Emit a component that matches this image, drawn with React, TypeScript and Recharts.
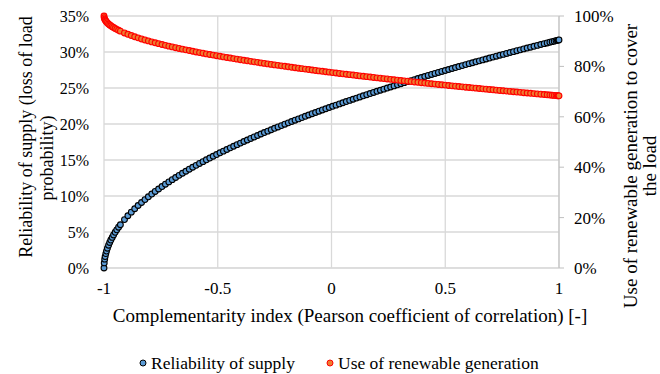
import React from "react";
import {
  ScatterChart,
  Scatter,
  XAxis,
  YAxis,
  CartesianGrid,
} from "recharts";

// Complementarity index (Pearson r), denser sampling towards both ends
const corrIndex = [
  -1, -0.999, -0.997, -0.995, -0.992, -0.989, -0.985, -0.98, -0.975, -0.97, -0.964, -0.958,
  -0.951, -0.944, -0.936, -0.928,
  -0.91, -0.895, -0.88, -0.865, -0.85, -0.835, -0.82, -0.805, -0.79, -0.775,
  -0.76, -0.745, -0.73, -0.715, -0.7, -0.685, -0.67, -0.655, -0.64, -0.625,
  -0.61, -0.595, -0.58, -0.565, -0.55, -0.535, -0.52, -0.505, -0.49, -0.475,
  -0.46, -0.445, -0.43, -0.415, -0.4, -0.385, -0.37, -0.355, -0.34, -0.325,
  -0.31, -0.295, -0.28, -0.265, -0.25, -0.235, -0.22, -0.205, -0.19, -0.175,
  -0.16, -0.145, -0.13, -0.115, -0.1, -0.085, -0.07, -0.055, -0.04, -0.025,
  -0.01, 0.005, 0.02, 0.035, 0.05, 0.065, 0.08, 0.095, 0.11, 0.125,
  0.14, 0.155, 0.17, 0.185, 0.2, 0.215, 0.23, 0.245, 0.26, 0.275,
  0.29, 0.305, 0.32, 0.335, 0.35, 0.365, 0.38, 0.395, 0.41, 0.425,
  0.44, 0.455, 0.47, 0.485, 0.5, 0.515, 0.53, 0.545, 0.56, 0.575,
  0.59, 0.605, 0.62, 0.635, 0.65, 0.665, 0.68, 0.695, 0.71, 0.725,
  0.74, 0.755, 0.77, 0.785, 0.8, 0.815, 0.83, 0.845, 0.86,
  0.875, 0.89, 0.905, 0.92, 0.935, 0.948, 0.96, 0.97, 0.979, 0.987, 0.993, 0.997, 1,
];

// Loss of load probability [%] (left axis)
const reliability = [
  0, 0.71, 1.23, 1.58, 2.0, 2.35, 2.74, 3.17, 3.54, 3.88, 4.25, 4.59,
  4.96, 5.3, 5.67, 6.01,
  6.72, 7.26, 7.76, 8.23, 8.68, 9.1, 9.5, 9.89, 10.27, 10.63,
  10.97, 11.31, 11.64, 11.96, 12.27, 12.57, 12.87, 13.16, 13.44, 13.72,
  13.99, 14.26, 14.52, 14.77, 15.03, 15.27, 15.52, 15.76, 16.0, 16.23,
  16.46, 16.69, 16.91, 17.13, 17.35, 17.57, 17.78, 17.99, 18.2, 18.4,
  18.61, 18.81, 19.01, 19.2, 19.4, 19.59, 19.78, 19.97, 20.16, 20.35,
  20.53, 20.71, 20.89, 21.07, 21.25, 21.43, 21.6, 21.78, 21.95, 22.12,
  22.29, 22.46, 22.62, 22.79, 22.95, 23.12, 23.28, 23.44, 23.6, 23.76,
  23.92, 24.07, 24.23, 24.38, 24.54, 24.69, 24.84, 24.99, 25.14, 25.29,
  25.44, 25.59, 25.74, 25.88, 26.03, 26.17, 26.31, 26.46, 26.6, 26.74,
  26.88, 27.02, 27.16, 27.3, 27.43, 27.57, 27.71, 27.84, 27.98, 28.11,
  28.25, 28.38, 28.51, 28.64, 28.77, 28.9, 29.03, 29.16, 29.29, 29.42,
  29.55, 29.67, 29.8, 29.93, 30.05, 30.18, 30.3, 30.43, 30.55,
  30.67, 30.79, 30.92, 31.04, 31.16, 31.26, 31.36, 31.44, 31.51, 31.58, 31.62, 31.65, 31.68,
];

// Share of load covered by renewable generation [%] (right axis)
const renewableUse = [
  100, 99.29, 98.77, 98.42, 98.0, 97.65, 97.26, 96.83, 96.46, 96.12, 95.75, 95.41,
  95.04, 94.7, 94.33, 93.99,
  93.28, 92.74, 92.24, 91.77, 91.32, 90.9, 90.5, 90.11, 89.73, 89.37,
  89.03, 88.69, 88.36, 88.04, 87.73, 87.43, 87.13, 86.84, 86.56, 86.28,
  86.01, 85.74, 85.48, 85.23, 84.97, 84.73, 84.48, 84.24, 84.0, 83.77,
  83.54, 83.31, 83.09, 82.87, 82.65, 82.43, 82.22, 82.01, 81.8, 81.6,
  81.39, 81.19, 80.99, 80.8, 80.6, 80.41, 80.22, 80.03, 79.84, 79.65,
  79.47, 79.29, 79.11, 78.93, 78.75, 78.57, 78.4, 78.22, 78.05, 77.88,
  77.71, 77.54, 77.38, 77.21, 77.05, 76.88, 76.72, 76.56, 76.4, 76.24,
  76.08, 75.93, 75.77, 75.62, 75.46, 75.31, 75.16, 75.01, 74.86, 74.71,
  74.56, 74.41, 74.26, 74.12, 73.97, 73.83, 73.69, 73.54, 73.4, 73.26,
  73.12, 72.98, 72.84, 72.7, 72.57, 72.43, 72.29, 72.16, 72.02, 71.89,
  71.75, 71.62, 71.49, 71.36, 71.23, 71.1, 70.97, 70.84, 70.71, 70.58,
  70.45, 70.33, 70.2, 70.07, 69.95, 69.82, 69.7, 69.57, 69.45,
  69.33, 69.21, 69.08, 68.96, 68.84, 68.74, 68.64, 68.56, 68.49, 68.42, 68.38, 68.35, 68.32,
];

const xTicks = [-1, -0.5, 0, 0.5, 1];
const leftTicks = [0, 5, 10, 15, 20, 25, 30, 35];
const rightTicks = [0, 20, 40, 60, 80, 100];

const FONT = "Liberation Serif, DejaVu Serif, serif";
const BLUE_FILL = "#5b9bd5";
const BLUE_EDGE = "#000000";
const RED_FILL = "#ed7d31";
const RED_EDGE = "#ff0000";

const reliabilityData = corrIndex.map((x, i) => ({ x, y: reliability[i] }));
const renewableData = corrIndex.map((x, i) => ({ x, y: renewableUse[i] }));

const marker = (fill: string, stroke: string) => (props: any) => (
  <circle cx={props.cx} cy={props.cy} r={2.9} fill={fill} stroke={stroke} strokeWidth={1.1} />
);

const pct = (v: number) => `${v}%`;

const tickStyle = (size: number) => ({ fill: "#000", fontSize: size, fontFamily: FONT });

export default function App() {
  return (
    <div style={{ position: "fixed", left: 0, top: 0, width: 660, height: 374, background: "#fff" }}>
      <ScatterChart
        width={660}
        height={374}
        margin={{ top: 16, right: 41, bottom: 76, left: 44 }}
      >
        <CartesianGrid yAxisId="left" stroke="#d9d9d9" strokeWidth={1.3} />
        <XAxis
          type="number"
          dataKey="x"
          domain={[-1, 1]}
          ticks={xTicks}
          height={30}
          axisLine={{ stroke: "#d9d9d9" }}
          tickLine={false}
          tickSize={6}
          tickMargin={8}
          tick={tickStyle(17)}
        />
        <YAxis
          yAxisId="left"
          type="number"
          dataKey="y"
          domain={[0, 35]}
          ticks={leftTicks}
          tickFormatter={pct}
          width={60}
          axisLine={false}
          tickLine={false}
          tickSize={6}
          tickMargin={9}
          tick={tickStyle(16)}
        />
        <YAxis
          yAxisId="right"
          orientation="right"
          type="number"
          dataKey="y"
          domain={[0, 100]}
          ticks={rightTicks}
          tickFormatter={pct}
          width={60}
          axisLine={{ stroke: "#bfbfbf" }}
          tickLine={{ stroke: "#bfbfbf" }}
          tickSize={5}
          tickMargin={10}
          tick={tickStyle(17)}
        />
        <Scatter
          name="Reliability of supply"
          yAxisId="left"
          data={reliabilityData}
          shape={marker(BLUE_FILL, BLUE_EDGE)}
          isAnimationActive={false}
        />
        <Scatter
          name="Use of renewable generation"
          yAxisId="right"
          data={renewableData}
          shape={marker(RED_FILL, RED_EDGE)}
          isAnimationActive={false}
        />
      </ScatterChart>

      {/* axis titles and legend */}
      <svg
        width={660}
        height={374}
        style={{ position: "absolute", left: 0, top: 0, pointerEvents: "none" }}
      >
        <g fontFamily={FONT} fill="#000">
          <text x={350} y={322} textAnchor="middle" fontSize={19}>
            Complementarity index (Pearson coefficient of correlation) [-]
          </text>
          <text transform="translate(26,137) rotate(-90)" y={6} textAnchor="middle" fontSize={18}>
            Reliability of supply (loss of load
          </text>
          <text transform="translate(47,158) rotate(-90)" y={6} textAnchor="middle" fontSize={18}>
            probability)
          </text>
          <text transform="translate(631,166) rotate(-90)" y={6} textAnchor="middle" fontSize={19}>
            Use of renewable generation to cover
          </text>
          <text transform="translate(650,166) rotate(-90)" y={6} textAnchor="middle" fontSize={19}>
            the load
          </text>
          <circle cx={143} cy={363} r={3} fill={BLUE_FILL} stroke={BLUE_EDGE} strokeWidth={1} />
          <text x={151} y={369} fontSize={17.5}>Reliability of supply</text>
          <circle cx={330} cy={363} r={3} fill={RED_FILL} stroke={RED_EDGE} strokeWidth={1} />
          <text x={338} y={369} fontSize={17.5}>Use of renewable generation</text>
        </g>
      </svg>
    </div>
  );
}
